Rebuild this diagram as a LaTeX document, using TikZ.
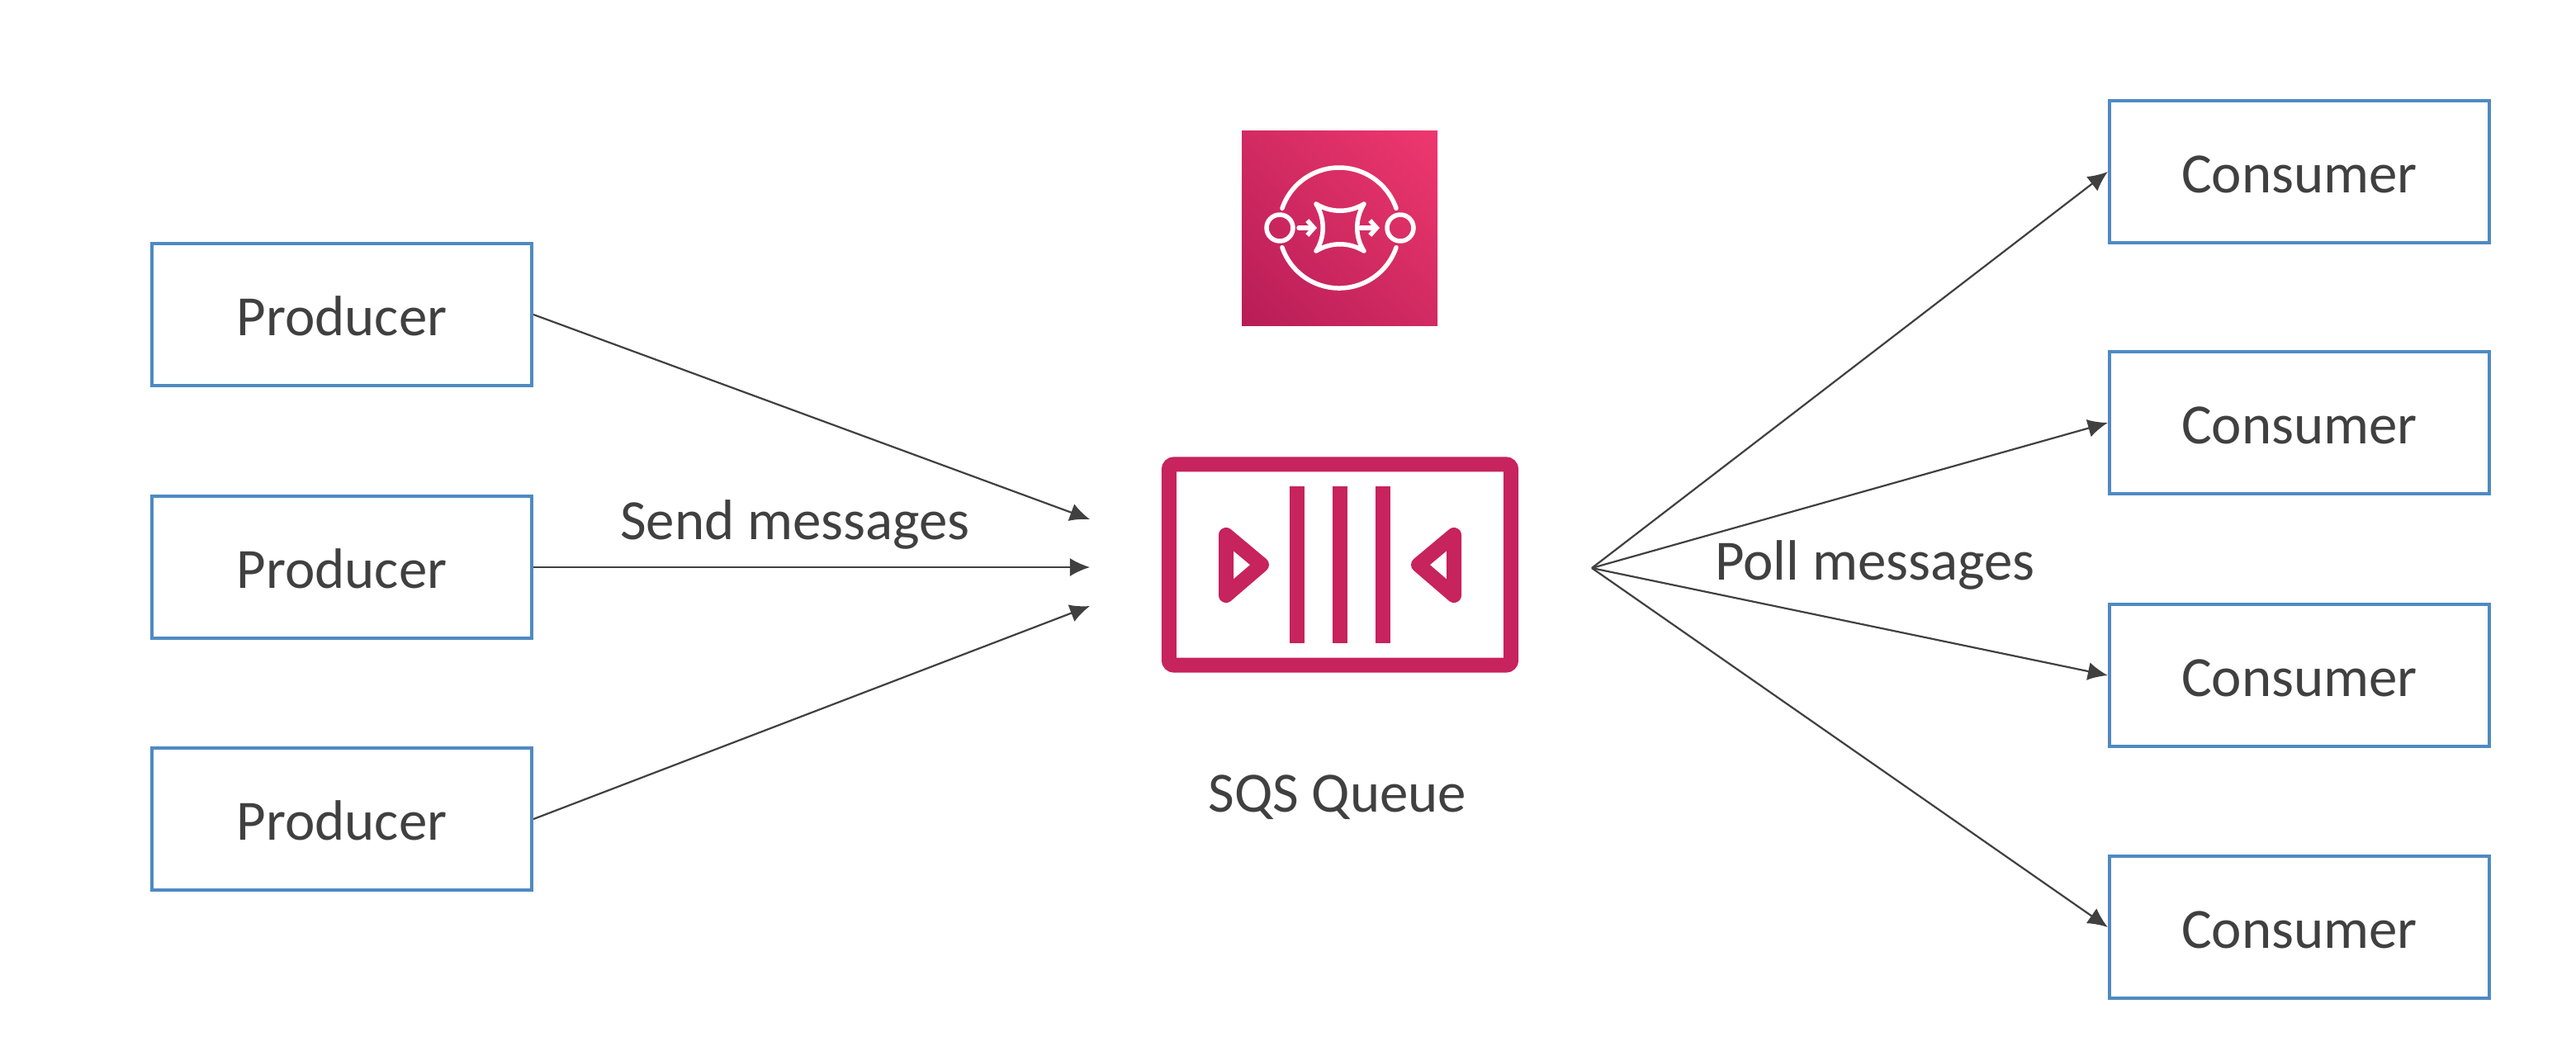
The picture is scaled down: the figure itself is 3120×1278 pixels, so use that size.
\documentclass[tikz,border=0pt]{standalone}
\usepackage{fontspec}
\setmainfont{Carlito}
\usetikzlibrary{arrows.meta,shadings}
\definecolor{boxblue}{HTML}{4F8AC2}
\definecolor{sqspink}{HTML}{C7235C}
\definecolor{icondark}{HTML}{B81D56}
\definecolor{iconlight}{HTML}{EE386F}
\definecolor{iconmid}{HTML}{D22A62}
\definecolor{txtgrey}{HTML}{404040}
\tikzset{
	actor/.style = {draw=boxblue, line width=0.04cm, minimum width=4.6cm, minimum height=1.71cm, text height=0.5cm, text depth=0cm, text=txtgrey, font=\fontsize{19.6pt}{23pt}\selectfont},
	caption/.style = {text=txtgrey, font=\fontsize{19.6pt}{23pt}\selectfont},
	glyph/.style = {draw=white, line width=0.055cm, line cap=round, line join=round},
	qbar/.style = {draw=sqspink, line width=0.18cm},
	flow/.style = {->, color=txtgrey, line width=0.022cm, >={Latex[length=0.24cm,width=0.22cm]}}
}
\begin{document}
\begin{tikzpicture}[x=0.01cm, y=-0.01cm]
		\useasboundingbox (0,0) rectangle (3120,1278);
		% senders and receivers
		\node [actor] (p1) at (414,381) {Producer};
		\node [actor] (p2) at (414,687) {Producer};
		\node [actor] (p3) at (414,992) {Producer};
		\node [actor] (c1) at (2785,208) {Consumer};
		\node [actor] (c2) at (2785,512) {Consumer};
		\node [actor] (c3) at (2785,818) {Consumer};
		\node [actor] (c4) at (2785,1123) {Consumer};
		% queue
		\node [draw=sqspink, line width=0.18cm, rounded corners=0.06cm, minimum width=4.14cm, minimum height=2.43cm] (queue) at (1623,684) {};
		\draw [qbar] (1571,589) -- (1571,779);
		\draw [qbar] (1623,589) -- (1623,779);
		\draw [qbar] (1675,589) -- (1675,779);
		\draw [qbar, line join=round] (1485,648) -- (1528,684) -- (1485,721) -- cycle;
		\draw [qbar, line join=round] (1761,648) -- (1718,684) -- (1761,721) -- cycle;
		\node [caption] (qname) at (1620,966) {SQS Queue};
		% service icon
		\shade [lower left=icondark, upper right=iconlight, upper left=iconmid, lower right=iconmid] (1504,158) rectangle (1741,394);
		\draw [glyph] (1550,276) circle (16);
		\draw [glyph] (1696,276) circle (16);
		\draw [glyph] (1622,276) ++(199:73) arc [start angle=199, end angle=341, radius=73];
		\draw [glyph] (1622,276) ++(19:73) arc [start angle=19, end angle=161, radius=73];
		\draw [glyph] (1594,247) .. controls (1612,258) and (1634,258) .. (1652,247) .. controls (1641,265) and (1641,287) .. (1652,304) .. controls (1634,293) and (1612,293) .. (1594,304) .. controls (1605,287) and (1605,265) .. (1594,247) -- cycle;
		\draw [glyph, ->, >={Straight Barb[length=0.08cm,width=0.18cm]}] (1573,276) -- (1595,276);
		\draw [glyph, ->, >={Straight Barb[length=0.08cm,width=0.18cm]}] (1648,276) -- (1671,276);
		% connectors
		\coordinate (in1) at (1320,629);
		\coordinate (in2) at (1320,687);
		\coordinate (in3) at (1320,734);
		\coordinate (tap) at (1928,688);
		\path [flow]
					(p1.east) edge (in1)
					(p2.east) edge (in2)
					(p3.east) edge (in3)
					(tap) edge (c1.west)
					(tap) edge (c2.west)
					(tap) edge (c3.west)
					(tap) edge (c4.west);
		\node [caption] (send) at (963,635) {Send messages};
		\node [caption] (poll) at (2271,684) {Poll messages};
\end{tikzpicture}
\end{document}
